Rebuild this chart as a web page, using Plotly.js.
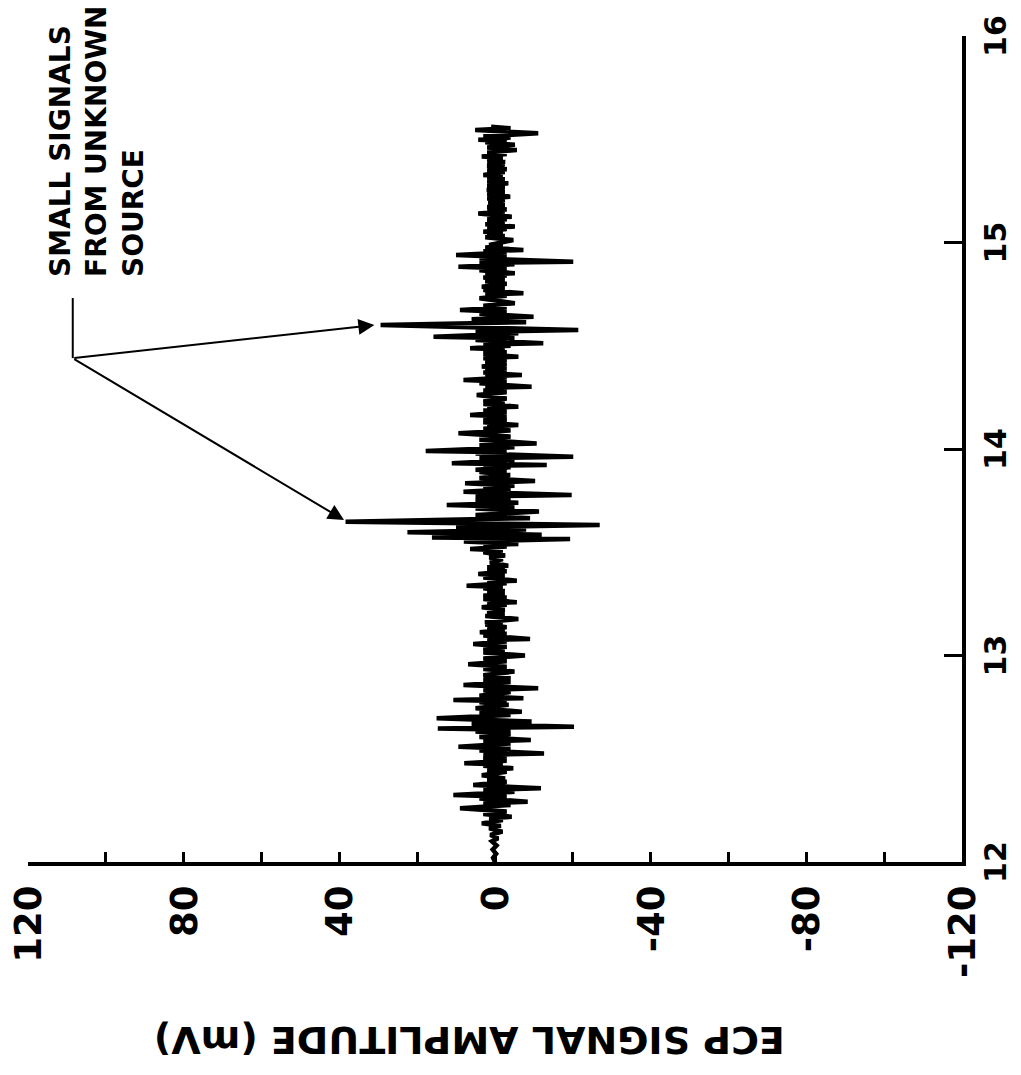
<!DOCTYPE html>
<html>
<head>
<meta charset="utf-8">
<script src="https://cdn.plot.ly/plotly-3.0.1.min.js"></script>
<style>
  html, body { margin: 0; padding: 0; background: #fff; width: 1021px; height: 1075px; overflow: hidden; }
  /* The plot is laid out with time running left to right, then turned a quarter
     turn counter-clockwise so that time runs up the page. */
  #chart {
    position: absolute; left: 0; top: 0;
    width: 1075px; height: 1021px;
    transform-origin: 0 0;
    transform: translate(0px, 1075px) rotate(-90deg);
  }
</style>
</head>
<body>
<div id="chart"></div>
<script>
// ECP record, turning points of the trace as [time (s), amplitude (mV)], one array per second
const record12 = [
  [12.000, 0.0], [12.020, 0.5], [12.040, -0.3], [12.060, 0.6], [12.080, -0.4], [12.100, 0.8],
  [12.115, -0.8], [12.131, 1.2], [12.147, -1.9], [12.163, 1.5], [12.175, -1.5], [12.187, 3.4],
  [12.203, -2.0], [12.212, 1.5], [12.219, -4.3], [12.232, 3.0], [12.245, -3.0], [12.260, 9.0],
  [12.276, -4.0], [12.284, 3.0], [12.292, -8.4], [12.308, 4.0], [12.316, -3.0], [12.324, 10.7],
  [12.340, -5.0], [12.348, 3.0], [12.357, -11.8], [12.373, 5.6], [12.389, -3.0], [12.397, 2.0],
  [12.405, -2.6], [12.420, 3.4], [12.437, -3.0], [12.445, 2.0], [12.454, -4.7], [12.466, 3.0],
  [12.472, -2.0], [12.478, 7.9], [12.490, -3.0], [12.500, 3.0], [12.512, -3.0], [12.518, 3.0],
  [12.526, -12.6], [12.540, 4.0], [12.548, -4.0], [12.558, 9.4], [12.574, -4.0], [12.582, 3.0],
  [12.591, -9.2], [12.605, 4.0], [12.620, -4.0], [12.632, 5.0], [12.640, -4.0], [12.647, 14.7],
  [12.655, -20.3], [12.668, 6.0], [12.680, -9.4], [12.696, 15.0], [12.712, -4.0], [12.720, 4.0],
  [12.728, -6.9], [12.745, 5.0], [12.762, -3.5], [12.773, 4.0], [12.779, -3.0], [12.785, 10.7],
  [12.793, -7.3], [12.805, 4.0], [12.823, -4.0], [12.832, 3.0], [12.841, -11.1], [12.857, 8.1],
  [12.872, -4.0], [12.882, 3.0], [12.890, -4.0], [12.905, 3.0], [12.922, -5.0], [12.935, 3.0],
  [12.945, -3.0], [12.958, 6.9], [12.972, -3.0], [12.985, 3.0]
];
const record13 = [
  [13.000, -7.7], [13.014, 3.0], [13.021, -2.5], [13.028, 3.0], [13.042, -3.0], [13.056, 5.6],
  [13.068, -3.0], [13.074, 2.0], [13.080, -9.0], [13.097, 3.0], [13.105, -3.0], [13.113, 3.9],
  [13.125, -2.5], [13.131, 2.0], [13.137, -3.0], [13.150, 2.5], [13.155, -2.0], [13.161, 2.6],
  [13.177, -6.0], [13.191, 2.5], [13.198, -2.5], [13.205, 2.0], [13.220, -2.5], [13.234, 3.4],
  [13.246, -3.0], [13.252, 2.0], [13.258, -5.6], [13.273, 3.0], [13.281, -3.0], [13.289, 3.0],
  [13.301, -2.5], [13.307, 2.0], [13.313, -2.5], [13.326, 3.0], [13.332, -2.0], [13.338, 7.3],
  [13.350, -3.0], [13.356, 2.0], [13.362, -5.6], [13.378, 3.0], [13.386, -2.5], [13.395, 4.3],
  [13.408, -3.0], [13.415, 2.0], [13.422, -2.5], [13.428, 2.0], [13.435, -3.4], [13.450, 1.3],
  [13.467, -2.0], [13.475, 1.5], [13.484, -2.6], [13.500, 3.0], [13.508, -2.0], [13.516, 6.4],
  [13.528, -3.0], [13.534, 3.0], [13.540, -6.0], [13.552, 8.0], [13.564, -19.3], [13.572, 16.2],
  [13.585, -12.0], [13.597, 22.5], [13.610, -8.0], [13.620, 10.0], [13.632, -26.9], [13.648, 38.4],
  [13.665, -9.0], [13.680, 5.0], [13.697, -11.3], [13.712, 5.0], [13.720, -5.0], [13.729, 12.4],
  [13.740, -6.0], [13.750, 5.0], [13.762, -4.0], [13.770, 5.0], [13.777, -19.7], [13.793, 8.1],
  [13.805, -4.0], [13.815, 3.0], [13.822, -5.0], [13.834, 7.7], [13.845, -10.3], [13.860, 4.0],
  [13.874, -3.9], [13.888, 4.0], [13.894, -3.0], [13.900, 5.0], [13.912, -4.0], [13.918, 3.0],
  [13.923, -13.3], [13.931, 11.1], [13.947, -5.0], [13.955, 4.0], [13.963, -20.1], [13.978, 5.0],
  [13.984, -3.0], [13.990, 17.8]
];
const record14 = [
  [14.008, -5.0], [14.018, 4.0], [14.027, -10.7], [14.045, 4.0], [14.060, -4.0], [14.076, 9.4],
  [14.090, -4.0], [14.098, 3.0], [14.105, -3.0], [14.110, 2.0], [14.116, -6.0], [14.130, 3.0],
  [14.140, -3.0], [14.150, 3.0], [14.157, -3.0], [14.165, 6.4], [14.178, -3.0], [14.186, 3.0],
  [14.193, -3.0], [14.199, 2.0], [14.205, -6.0], [14.218, 3.0], [14.224, -2.5], [14.230, 3.0],
  [14.245, -3.0], [14.262, 4.7], [14.275, -3.0], [14.283, 3.0], [14.290, -3.0], [14.296, 2.5],
  [14.302, -9.4], [14.318, 4.0], [14.326, -3.0], [14.334, 8.1], [14.346, -3.0], [14.352, 2.5],
  [14.358, -6.9], [14.370, 3.0], [14.378, -3.0], [14.385, 2.5], [14.392, -3.0], [14.399, 3.4],
  [14.410, -3.0], [14.420, 2.5], [14.432, -3.0], [14.440, 3.0], [14.447, -6.0], [14.460, 3.0],
  [14.468, -3.0], [14.476, 3.0], [14.482, -2.5], [14.488, 6.4], [14.500, -4.0], [14.506, 3.0],
  [14.512, -12.4], [14.528, 5.0], [14.536, -5.0], [14.544, 15.8], [14.560, -6.0], [14.568, 5.0],
  [14.576, -21.4], [14.600, 29.4], [14.614, -8.0], [14.628, 6.0], [14.641, -9.9], [14.655, 4.0],
  [14.664, -3.0], [14.673, 9.0], [14.686, -3.0], [14.694, 3.0], [14.706, -5.1], [14.730, 4.0],
  [14.742, -3.0], [14.748, 2.5], [14.754, -7.3], [14.770, 3.0], [14.778, -2.5], [14.786, 3.4],
  [14.800, -3.0], [14.812, 2.5], [14.820, -2.5], [14.830, 3.0], [14.840, -3.0], [14.846, 2.5],
  [14.851, -5.1], [14.866, 4.0], [14.874, -3.0], [14.883, 9.4], [14.895, -5.0], [14.901, 4.0],
  [14.907, -20.1], [14.922, 4.0], [14.930, -3.0], [14.939, 10.0], [14.952, -3.0], [14.958, 3.0],
  [14.964, -7.3], [14.976, 2.5], [14.982, -2.0], [14.988, 1.5]
];
const record15 = [
  [15.012, -4.7], [15.025, 2.5], [15.032, -2.5], [15.040, 2.0], [15.046, -2.0], [15.052, 3.0],
  [15.065, -3.0], [15.071, 2.0], [15.077, -5.1], [15.088, 2.5], [15.094, -2.5], [15.100, 2.0],
  [15.112, -3.0], [15.118, 2.0], [15.125, -4.3], [15.140, 4.3], [15.150, -2.5], [15.155, 2.0],
  [15.160, -3.0], [15.172, 2.0], [15.181, -2.5], [15.190, 1.7], [15.205, -2.5], [15.213, 2.0],
  [15.222, -3.9], [15.235, 2.0], [15.244, -2.5], [15.254, 2.1], [15.266, -2.5], [15.275, 2.0],
  [15.287, -3.4], [15.298, 2.0], [15.306, -2.5], [15.316, 2.0], [15.321, -2.0], [15.327, 3.0],
  [15.341, -2.5], [15.348, 2.0], [15.355, -3.0], [15.370, 2.0], [15.380, -2.5], [15.385, 2.0],
  [15.390, -2.6], [15.403, 2.0], [15.410, -2.0], [15.416, 3.4], [15.428, -3.0], [15.436, 2.0],
  [15.448, -5.6], [15.460, 2.0], [15.473, -5.1], [15.485, 2.5], [15.491, -3.0], [15.497, 4.3],
  [15.508, -4.0], [15.514, 3.0], [15.529, -11.1], [15.545, 5.1], [15.553, -4.0], [15.560, 1.0]
];

// Axis ticks
const timeTicks = [12, 13, 14, 15, 16];
const ampTickVals = [120, 80, 40, 0, -40, -80, -120];
const ampTickText = ['120', '80', '40', '0', '-40', '-80', '-120'];
const ampMinorTicks = [100, 60, 20, -20, -60, -100];

// Callout: where the leader meets, and the two signals it points at
const calloutText = 'SMALL SIGNALS<br>FROM UNKNOWN<br>SOURCE';
const calloutJoin = { t: 14.44, mv: 108.5 };
const calloutLeaderEnd = 14.731;
const calloutTargets = [
  { t: 14.600, mv: 31.0 },
  { t: 13.656, mv: 38.8 }
];

const record = record12.concat(record13, record14, record15);
const timeS = record.map(p => p[0]);
const ampMV = record.map(p => p[1]);

const boldFont = (size) => ({ family: 'DejaVu Sans', size: size, color: '#000', weight: 'bold' });

const trace = {
  x: timeS,
  y: ampMV,
  type: 'scatter',
  mode: 'lines',
  line: { color: '#000', width: 4.5 },
  hoverinfo: 'skip',
  showlegend: false
};

const annotations = [
  {
    text: 'ECP SIGNAL AMPLITUDE (mV)',
    xref: 'paper', yref: 'paper',
    x: -0.2155, y: 0.528,
    xanchor: 'center', yanchor: 'middle',
    textangle: -90,
    showarrow: false,
    font: boldFont(38)
  },
  {
    text: calloutText,
    xref: 'x', yref: 'y',
    x: 14.825, y: 116.5,
    xanchor: 'left', yanchor: 'top',
    align: 'left',
    showarrow: false,
    font: boldFont(28)
  }
].concat(calloutTargets.map(p => ({
  text: '',
  xref: 'x', yref: 'y', axref: 'x', ayref: 'y',
  x: p.t, y: p.mv,
  ax: calloutJoin.t, ay: calloutJoin.mv,
  showarrow: true,
  arrowhead: 2, arrowsize: 1.6, arrowwidth: 2,
  arrowcolor: '#000', standoff: 0
})));

const layout = {
  width: 1075,
  height: 1021,
  margin: { l: 213, r: 36, t: 28, b: 59, pad: 0 },
  paper_bgcolor: '#fff',
  plot_bgcolor: '#fff',
  showlegend: false,
  xaxis: {
    range: [12, 16],
    tickmode: 'array',
    tickvals: timeTicks,
    ticktext: timeTicks.map(String),
    ticks: 'inside', ticklen: 18, tickwidth: 3, tickcolor: '#000',
    showline: true, linewidth: 4, linecolor: '#000',
    showgrid: false, zeroline: false,
    tickfont: boldFont(30),
    ticklabelstandoff: 4,
    fixedrange: true
  },
  yaxis: {
    range: [-120, 120],
    tickmode: 'array',
    tickvals: ampTickVals,
    ticktext: ampTickText,
    ticks: 'inside', ticklen: 10, tickwidth: 3, tickcolor: '#000',
    minor: { tickmode: 'array', tickvals: ampMinorTicks, ticks: 'inside', ticklen: 10, tickwidth: 3, tickcolor: '#000' },
    showline: true, linewidth: 4, linecolor: '#000',
    showgrid: false, zeroline: false,
    tickfont: boldFont(37),
    ticklabelstandoff: 12,
    fixedrange: true
  },
  annotations: annotations,
  shapes: [
    {
      type: 'line', xref: 'x', yref: 'y',
      x0: calloutJoin.t, y0: calloutJoin.mv,
      x1: calloutLeaderEnd, y1: calloutJoin.mv,
      line: { color: '#000', width: 2 }
    }
  ]
};

Plotly.newPlot('chart', [trace], layout, { staticPlot: true, displayModeBar: false });
</script>
</body>
</html>
